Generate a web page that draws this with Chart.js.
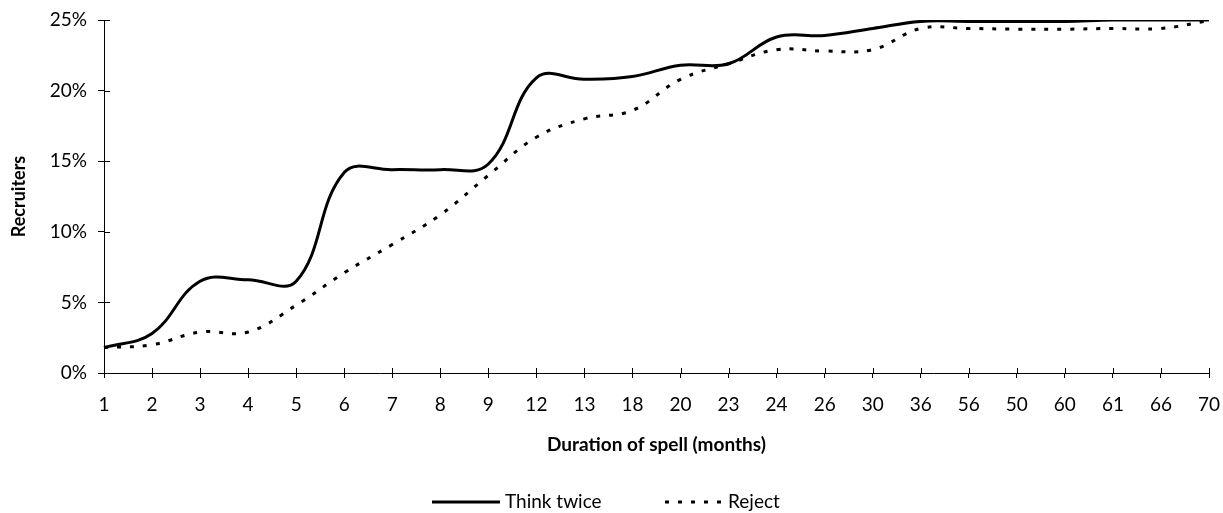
<!DOCTYPE html>
<html>
<head>
<meta charset="utf-8">
<script src="https://cdn.jsdelivr.net/npm/chart.js@4.4.1/dist/chart.umd.min.js"></script>
<style>
  html, body { margin: 0; padding: 0; background: #fff; }
  #wrap { width: 1223px; height: 513px; }
</style>
</head>
<body>
<div id="wrap"><canvas id="chart"></canvas></div>
<script>
// ── Data ──────────────────────────────────────────────────
const durations  = ['1','2','3','4','5','6','7','8','9','12','13','18','20','23','24','26','30','36','56','50','60','61','66','70'];
const thinkTwice = [1.8, 2.8, 6.5, 6.6, 6.5, 14.2, 14.4, 14.4, 14.8, 20.9, 20.8, 21.0, 21.8, 21.9, 23.8, 23.9, 24.4, 24.9, 24.9, 24.9, 24.9, 25.0, 25.0, 25.0];
const reject     = [1.8, 2.0, 2.9, 2.9, 4.8, 7.1, 9.1, 11.2, 14.0, 16.7, 18.0, 18.6, 20.8, 21.9, 22.9, 22.8, 22.9, 24.4, 24.4, 24.35, 24.35, 24.4, 24.4, 24.95];
const yMin = 0, yMax = 25, yStep = 5;

const FONT = 'Lato, "Open Sans", sans-serif';
const REJECT_DASH = [4, 9];

// ── Tick marks that cross the axes (inner half) ──────────
const crossTicks = {
  id: 'crossTicks',
  afterDraw(chart) {
    const { ctx, chartArea, scales: { x, y } } = chart;
    ctx.save();
    ctx.strokeStyle = '#000';
    ctx.lineWidth = 1;
    ctx.beginPath();
    x.ticks.forEach((t, i) => {
      const px = Math.round(x.getPixelForTick(i)) + 0.5;
      ctx.moveTo(px, chartArea.bottom);
      ctx.lineTo(px, chartArea.bottom - 5);
    });
    y.ticks.forEach((t, i) => {
      const py = Math.round(y.getPixelForTick(i)) + 0.5;
      ctx.moveTo(chartArea.left, py);
      ctx.lineTo(chartArea.left + 6, py);
    });
    ctx.stroke();
    ctx.restore();
  }
};

// ── Legend drawn at the bottom (line samples + labels) ───
const lineLegend = {
  id: 'lineLegend',
  afterDraw(chart) {
    const { ctx } = chart;
    const items = [
      { ds: chart.data.datasets[0], x0: 432, x1: 500 },
      { ds: chart.data.datasets[1], x0: 665, x1: 723 }
    ];
    const yLine = 502;
    ctx.save();
    ctx.font = '19px ' + FONT;
    ctx.fillStyle = '#000';
    ctx.textBaseline = 'middle';
    items.forEach(it => {
      ctx.strokeStyle = it.ds.borderColor;
      ctx.lineWidth = it.ds.borderWidth;
      ctx.setLineDash(it.ds.borderDash || []);
      ctx.beginPath();
      ctx.moveTo(it.x0, yLine);
      ctx.lineTo(it.x1, yLine);
      ctx.stroke();
      ctx.fillText(it.ds.label, it.x1 + 5, yLine);
    });
    ctx.restore();
  }
};

new Chart(document.getElementById('chart').getContext('2d'), {
  type: 'line',
  data: {
    labels: durations,
    datasets: [
      {
        label: 'Think twice',
        data: thinkTwice,
        borderColor: '#000', backgroundColor: '#000',
        borderWidth: 3, pointRadius: 0, tension: 0.4, fill: false
      },
      {
        label: 'Reject',
        data: reject,
        borderColor: '#000', backgroundColor: '#000',
        borderWidth: 3, borderDash: REJECT_DASH, pointRadius: 0, tension: 0.4, fill: false
      }
    ]
  },
  options: {
    responsive: true, maintainAspectRatio: false, animation: false,
    layout: { padding: { left: 0, right: 14, top: 20, bottom: 57 } },
    plugins: {
      tooltip: { enabled: false },
      legend: { display: false }
    },
    scales: {
      x: {
        afterFit(s) { s.height = 83; s.paddingLeft = 0; s.paddingRight = 0; },
        grid: { display: true, drawOnChartArea: false, drawTicks: true, tickLength: 5, color: '#000' },
        border: { display: true, color: '#000', width: 1 },
        ticks: { color: '#000', font: { family: FONT, size: 19 }, padding: 15, maxRotation: 0, autoSkip: false },
        title: {
          display: true, text: 'Duration of spell (months)', color: '#000',
          font: { family: FONT, size: 19, weight: 'bold' }, padding: { top: 0, bottom: 0 }
        }
      },
      y: {
        min: yMin, max: yMax,
        afterFit(s) { s.width = 104; s.paddingTop = 0; s.paddingBottom = 0; },
        grid: { display: true, drawOnChartArea: false, drawTicks: true, tickLength: 6, color: '#000' },
        border: { display: true, color: '#000', width: 1 },
        ticks: { stepSize: yStep, color: '#000', font: { family: FONT, size: 19 }, padding: 11, callback: v => v + '%' },
        title: {
          display: true, text: 'Recruiters', color: '#000',
          font: { family: FONT, size: 18, weight: 'bold' }, padding: { top: 8, bottom: 0 }
        }
      }
    }
  },
  plugins: [crossTicks, lineLegend]
});
</script>
</body>
</html>
